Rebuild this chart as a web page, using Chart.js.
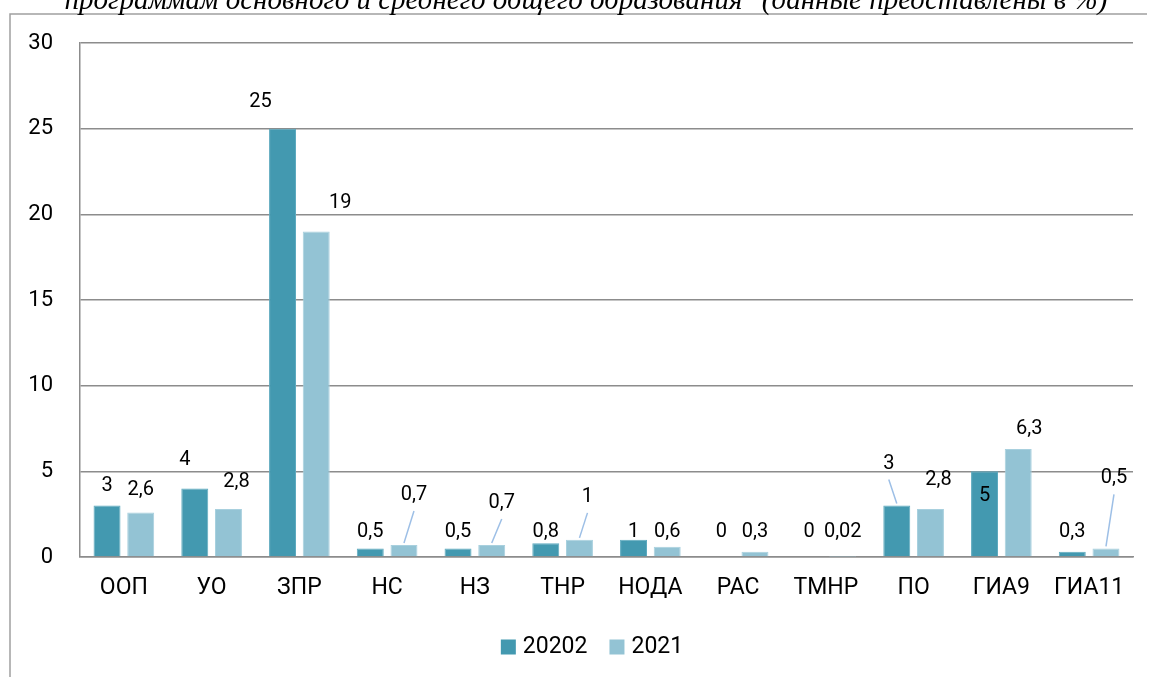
<!DOCTYPE html>
<html lang="ru">
<head>
<meta charset="utf-8">
<title>Chart</title>
<script src="https://cdn.jsdelivr.net/npm/chart.js@4.4.1/dist/chart.umd.min.js"></script>
<style>
    html, body { margin: 0; padding: 0; background: #fff; }
    #wrap { position: relative; width: 1151px; height: 677px; }
</style>
</head>
<body>
<div id="wrap"><canvas id="myChart" width="1151" height="677"></canvas></div>
<script>
const categories = ['ООП', 'УО', 'ЗПР', 'НС', 'НЗ', 'ТНР', 'НОДА', 'РАС', 'ТМНР', 'ПО', 'ГИА9', 'ГИА11'];
const values2020 = [3, 4, 25, 0.5, 0.5, 0.8, 1, 0, 0, 3, 5, 0.3];
const values2021 = [2.6, 2.8, 19, 0.7, 0.7, 1, 0.6, 0.3, 0.02, 2.8, 6.3, 0.5];
const seriesNames = ['20202', '2021'];
const yMax = 30;
const yStep = 5;
const titleText = 'программам основного и среднего общего образования" (данные представлены в %)';

const FONT = 'Roboto, "Open Sans", sans-serif';
const colors = ['#4399b0', '#93c3d4'];

// label nudges (px from the bar top centre), the way they sit in the picture
const labelShift = [
    [[0, -20], [-10, -28], [-22, -27], [0, -16], [0, -16], [0, -11], [0, -8], [0, -25], [0, -25], [-8, -42, true], [0, 25], [0, -20]],
    [[0, -22], [8, -27], [24, -28], [10, -50, true], [10, -42, true], [8, -43, true], [0, -15], [0, -20], [0, -25], [8, -29], [11, -20], [8, -70, true]]
];

function fmt(v) {
    return String(v).replace('.', ',');
}

const labelPlugin = {
    id: 'barLabels',
    afterDatasetsDraw(chart) {
        const ctx = chart.ctx;
        ctx.save();
        ctx.font = '20px ' + FONT;
        ctx.textAlign = 'center';
        ctx.textBaseline = 'middle';
        chart.data.datasets.forEach((ds, di) => {
            const meta = chart.getDatasetMeta(di);
            meta.data.forEach((bar, i) => {
                const s = labelShift[di][i];
                const lx = bar.x + s[0];
                const ly = bar.y + s[1];
                if (s[2]) {
                    ctx.strokeStyle = '#9dbfe6';
                    ctx.lineWidth = 1.5;
                    ctx.beginPath();
                    ctx.moveTo(lx, ly + 16);
                    ctx.lineTo(bar.x, bar.y - 2);
                    ctx.stroke();
                }
                ctx.fillStyle = '#000';
                ctx.fillText(fmt(ds.data[i]), lx, ly);
            });
        });
        ctx.restore();
    }
};

const framePlugin = {
    id: 'frame',
    afterDraw(chart) {
        const ctx = chart.ctx;
        ctx.save();
        // outer frame of the chart object (left and top edges visible)
        ctx.strokeStyle = '#a0a0a0';
        ctx.lineWidth = 1.5;
        ctx.beginPath();
        ctx.moveTo(10, 677);
        ctx.lineTo(10, 14);
        ctx.lineTo(1147, 14);
        ctx.stroke();

        // clipped title line above the frame
        ctx.fillStyle = '#000';
        ctx.font = 'italic 29px "Liberation Serif", serif';
        ctx.textAlign = 'center';
        ctx.textBaseline = 'alphabetic';
        ctx.fillText(titleText, 586, 9);

        // legend
        ctx.font = '23px ' + FONT;
        ctx.textBaseline = 'middle';
        ctx.textAlign = 'left';
        const box = 15, gapText = 7, gapItem = 22;
        const widths = seriesNames.map(n => box + gapText + ctx.measureText(n).width);
        const total = widths.reduce((a, b) => a + b, 0) + gapItem;
        let x = 592 - total / 2;
        const y = 647;
        seriesNames.forEach((n, i) => {
            ctx.fillStyle = colors[i];
            ctx.fillRect(x, y - box / 2, box, box);
            ctx.fillStyle = '#000';
            ctx.fillText(n, x + box + gapText, y);
            x += widths[i] + gapItem;
        });
        ctx.restore();
    }
};

const ctx = document.getElementById('myChart').getContext('2d');
const myChart = new Chart(ctx, {
    type: 'bar',
    data: {
        labels: categories,
        datasets: [{
            label: seriesNames[0],
            data: values2020,
            backgroundColor: colors[0],
            borderColor: '#5eaabf',
            borderWidth: 1
        }, {
            label: seriesNames[1],
            data: values2021,
            backgroundColor: colors[1],
            borderColor: '#a8d0de',
            borderWidth: 1
        }]
    },
    options: {
        responsive: false,
        animation: false,
        layout: {
            padding: { left: 0, right: 18, top: 43, bottom: 0 }
        },
        datasets: {
            bar: { categoryPercentage: 0.768, barPercentage: 0.8 }
        },
        plugins: {
            legend: { display: false },
            tooltip: { enabled: false }
        },
        scales: {
            x: {
                grid: { display: false, drawTicks: false },
                border: { display: true, color: '#8c8c8c', width: 1.5 },
                ticks: { color: '#000', font: { family: FONT, size: 23 }, padding: 17, maxRotation: 0, autoSkip: false },
                afterFit(scale) { scale.height = 120; }
            },
            y: {
                min: 0,
                max: yMax,
                grid: { color: '#8c8c8c', lineWidth: 1.5, drawTicks: false },
                border: { display: true, color: '#8c8c8c', width: 1.5 },
                ticks: { stepSize: yStep, color: '#000', font: { family: FONT, size: 22 }, padding: 27 },
                afterFit(scale) { scale.width = 80; }
            }
        }
    },
    plugins: [labelPlugin, framePlugin]
});
</script>
</body>
</html>
